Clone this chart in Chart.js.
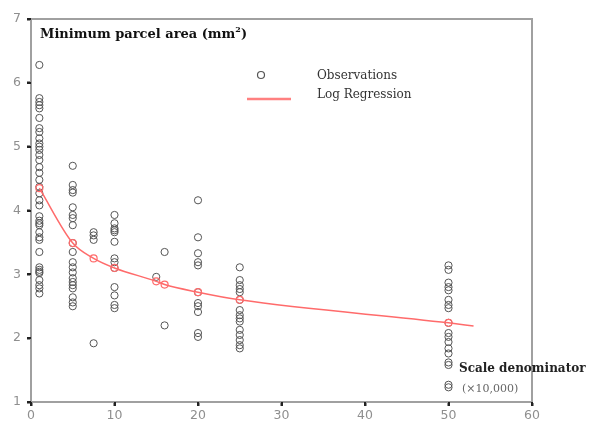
<!DOCTYPE html>
<html>
<head>
<meta charset="utf-8">
<script src="https://cdn.jsdelivr.net/npm/chart.js@4/dist/chart.umd.min.js"></script>
<style>
  html, body { margin: 0; padding: 0; background: #fff; }
  canvas { display: block; }
</style>
</head>
<body>
<canvas id="chart" width="592" height="425"></canvas>
<script>
// scale denominators (x 10,000) where parcels were observed
const scales = [1, 5, 7.5, 10, 15, 16, 20, 25, 50];

// observed minimum parcel areas (mm2), one list per scale
const obsAt1 = [6.28, 5.76, 5.70, 5.65, 5.60, 5.45, 5.29, 5.23, 5.13, 5.05, 5.00, 4.95, 4.87, 4.79,
  4.68, 4.59, 4.48, 4.37, 4.27, 4.16, 4.08, 3.91, 3.84, 3.80, 3.77, 3.66, 3.58, 3.54, 3.35,
  3.11, 3.07, 3.04, 3.02, 2.91, 2.83, 2.78, 2.70];
const obsAt5 = [4.70, 4.40, 4.32, 4.28, 4.05, 3.93, 3.88, 3.77, 3.49, 3.35, 3.19, 3.11, 3.03,
  2.94, 2.88, 2.83, 2.78, 2.64, 2.56, 2.50];
const obsAt7_5 = [3.66, 3.61, 3.54, 1.92];
const obsAt10 = [3.93, 3.80, 3.72, 3.69, 3.66, 3.51, 3.25, 3.19, 3.10, 2.80, 2.67, 2.52, 2.47];
const obsAt15 = [2.96];
const obsAt16 = [3.35, 2.20];
const obsAt20 = [4.16, 3.58, 3.33, 3.19, 3.14, 2.72, 2.55, 2.50, 2.41, 2.08, 2.02];
const obsAt25 = [3.11, 2.91, 2.83, 2.77, 2.72, 2.60, 2.44, 2.36, 2.31, 2.26, 2.13, 2.05, 1.97, 1.89, 1.84];
const obsAt50 = [3.14, 3.07, 2.87, 2.80, 2.75, 2.60, 2.52, 2.47, 2.24, 2.08, 2.02, 1.94, 1.84,
  1.76, 1.62, 1.58, 1.27, 1.23];
const observations = [obsAt1, obsAt5, obsAt7_5, obsAt10, obsAt15, obsAt16, obsAt20, obsAt25, obsAt50];

// log regression curve
const regX = [1, 5, 7.5, 10, 15, 16, 20, 25, 50, 53];
const regY = [4.35, 3.49, 3.25, 3.10, 2.89, 2.84, 2.72, 2.60, 2.24, 2.19];

const xTicks = [0, 10, 20, 30, 40, 50, 60];
const yTicks = [1, 2, 3, 4, 5, 6, 7];

const obsPoints = [];
scales.forEach((s, i) => {
  observations[i].forEach(v => obsPoints.push({ x: s, y: v }));
});
const regPoints = regX.map((x, i) => ({ x: x, y: regY[i] }));

const serif = '"DejaVu Serif", "Liberation Serif", serif';

const decorations = {
  id: 'decorations',
  afterDraw(chart) {
    const ctx = chart.ctx;
    const a = chart.chartArea;
    const xs = chart.scales.x;
    const ys = chart.scales.y;
    ctx.save();
    // plot frame
    ctx.strokeStyle = '#a0a0a0';
    ctx.lineWidth = 2;
    ctx.beginPath();
    ctx.moveTo(a.left, a.top);
    ctx.lineTo(a.right, a.top);
    ctx.lineTo(a.right, a.bottom);
    ctx.lineTo(a.left, a.bottom);
    ctx.closePath();
    ctx.stroke();
    // small dark tick marks outside the axes
    ctx.strokeStyle = '#222';
    ctx.beginPath();
    xTicks.forEach(v => {
      const px = Math.round(xs.getPixelForValue(v));
      ctx.moveTo(px, a.bottom);
      ctx.lineTo(px, a.bottom + 4);
    });
    yTicks.forEach(v => {
      const py = Math.round(ys.getPixelForValue(v));
      ctx.moveTo(a.left - 4, py);
      ctx.lineTo(a.left, py);
    });
    ctx.stroke();

    // title inside plot
    ctx.fillStyle = '#111';
    ctx.textBaseline = 'alphabetic';
    ctx.textAlign = 'left';
    ctx.font = 'bold 13px ' + serif;
    let t = 'Minimum parcel area (mm';
    ctx.fillText(t, 40, 38);
    let w = ctx.measureText(t).width;
    ctx.font = 'bold 8px ' + serif;
    ctx.fillText('2', 40 + w, 32);
    let w2 = ctx.measureText('2').width;
    ctx.font = 'bold 13px ' + serif;
    ctx.fillText(')', 40 + w + w2, 38);

    // legend
    ctx.strokeStyle = '#555';
    ctx.lineWidth = 1.2;
    ctx.beginPath();
    ctx.arc(261, 75, 3.5, 0, Math.PI * 2);
    ctx.stroke();
    ctx.strokeStyle = '#ff8080';
    ctx.lineWidth = 2.5;
    ctx.beginPath();
    ctx.moveTo(247, 99);
    ctx.lineTo(291, 99);
    ctx.stroke();
    ctx.fillStyle = '#333';
    ctx.font = '12px ' + serif;
    ctx.fillText('Observations', 317, 79);
    ctx.fillText('Log Regression', 317, 98);

    // axis note
    ctx.font = 'bold 12px ' + serif;
    ctx.fillStyle = '#222';
    ctx.fillText('Scale denominator', 459, 372);
    ctx.font = '11px ' + serif;
    ctx.fillStyle = '#666';
    ctx.fillText('(\u00d710,000)', 462, 392);
    ctx.restore();
  }
};

new Chart(document.getElementById('chart'), {
  type: 'scatter',
  data: {
    datasets: [
      {
        label: 'Log Regression',
        type: 'line',
        data: regPoints,
        borderColor: '#ff6b6b',
        borderWidth: 1.5,
        backgroundColor: 'rgba(0,0,0,0)',
        pointBorderColor: '#ff6b6b',
        pointBackgroundColor: 'rgba(0,0,0,0)',
        pointRadius: regX.map((x, i) => i === regX.length - 1 ? 0 : 3.5),
        pointBorderWidth: 1.2,
        cubicInterpolationMode: 'monotone',
        showLine: true
      },
      {
        label: 'Observations',
        data: obsPoints,
        pointStyle: 'circle',
        pointRadius: 3.6,
        pointBorderWidth: 1,
        pointBorderColor: '#555',
        pointBackgroundColor: 'rgba(0,0,0,0)'
      }
    ]
  },
  options: {
    responsive: false,
    animation: false,
    devicePixelRatio: 1,
    layout: { padding: { top: 19, right: 60, left: 0, bottom: 0 } },
    plugins: {
      legend: { display: false },
      tooltip: { enabled: false }
    },
    scales: {
      x: {
        type: 'linear',
        min: 0,
        max: 60,
        afterBuildTicks: s => { s.ticks = xTicks.map(v => ({ value: v })); },
        afterFit: s => { s.height = 23; },
        border: { display: true, color: '#a0a0a0', width: 2 },
        grid: { display: true, drawOnChartArea: false, drawTicks: true, tickLength: 4, tickColor: '#222', tickWidth: 2 },
        ticks: { color: '#8f8f8f', padding: 2, font: { family: 'DejaVu Sans', size: 12.5 } }
      },
      y: {
        type: 'linear',
        min: 1,
        max: 7,
        afterBuildTicks: s => { s.ticks = yTicks.map(v => ({ value: v })); },
        afterFit: s => { s.width = 31; },
        border: { display: true, color: '#a0a0a0', width: 2 },
        grid: { display: true, drawOnChartArea: false, drawTicks: true, tickLength: 4, tickColor: '#222', tickWidth: 2 },
        ticks: { color: '#8f8f8f', padding: 6, font: { family: 'DejaVu Sans', size: 12.5 } }
      }
    }
  },
  plugins: [decorations]
});
</script>
</body>
</html>
